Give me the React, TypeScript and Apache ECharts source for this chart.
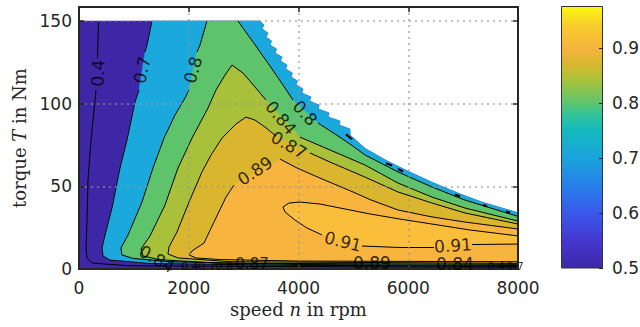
import { useEffect, useRef } from 'react';
import * as echarts from 'echarts';

// ---- axes ----
const SPEED_MIN = 0;
const SPEED_MAX = 8000;
const SPEED_STEP = 2000;
const TORQUE_MIN = 0;
const TORQUE_MAX = 158.5;
const TORQUE_STEP = 50;
const CB_MIN = 0.5;
const CB_MAX = 0.976;
const CB_STEP = 0.1;

// ---- max torque envelope [speed rpm, torque Nm] (jagged edge of the gridded map) ----
const ENVELOPE: number[][] = [
  [0, 150], [3300, 150], [3371, 147.6], [3335, 145.2], [3444, 142.7], [3408, 140.3], [3508, 137.9],
  [3481, 135.5], [3599, 133.1], [3572, 130.6], [3699, 128.2], [3672, 125.8], [3790, 123.4],
  [3765, 121], [3887, 118.5], [3863, 116.1], [3982, 113.7], [3954, 111.3], [4082, 108.9],
  [4060, 106.5], [4228, 104], [4200, 101.6], [4374, 99.2], [4360, 96.8], [4556, 94.4],
  [4540, 91.9], [4756, 89.5], [4740, 87.1], [4938, 84.7], [4940, 81], [5210, 73], [5580, 66],
  [5940, 60], [6430, 52.5], [6900, 46], [7340, 40.5], [8000, 34],
];

// ---- contour lines (segments split where labels sit) ----
const C040: number[][][] = [
  [[355, 150], [337, 127.6]],
  [[310, 108.3], [255, 90.1], [219, 78], [164, 53.8], [146, 29.6], [128, 12.7], [146, 6.7], [237, 3.6], [929, 1.9], [4027, 1.45], [8000, 1.1]],
];
const C070: number[][][] = [
  [[1330, 150], [1239, 135.5], [1203, 131.2]],
  [[1093, 108.3], [1020, 101], [875, 78], [747, 61.1], [601, 36.9], [474, 20.6], [419, 12.7], [437, 7.9], [565, 5.4], [1294, 3.3], [4027, 2.2], [8000, 1.6]],
];
// short 0.7 fragments just inside the envelope
const C070_EDGE: number[][][] = [
  [[4866, 81.5], [4975, 78.5]],
  [[5594, 64], [5704, 62.6]],
  [[5813, 60.5], [5904, 59]],
  [[6852, 45], [6943, 44]],
  [[7362, 38.8], [7435, 37.9]],
  [[7781, 34.7], [7854, 34.1]],
];
const C080_LOW: number[][][] = [
  [[2332, 150], [2205, 135.5], [2150, 131.2]],
  [[2004, 108.3], [1932, 103.4], [1749, 93.1], [1549, 79.2], [1348, 61.1], [1148, 40.5], [893, 20.6], [765, 12.7], [784, 8.5], [984, 6.4], [1658, 4.4], [4027, 2.7], [8000, 2.1]],
];
const C080_HIGH: number[][][] = [
  [[2897, 150], [3171, 137.3], [3481, 122.8], [3754, 109.5], [3900, 102.2]],
  [[4355, 88.3], [4665, 81.7], [4938, 75.6], [5212, 69], [5813, 58.7], [6433, 49.6], [7034, 41.7], [8000, 31.8]],
];
const C084: number[][][] = [
  [[8000, 29], [7034, 36.9], [6433, 43.5], [5813, 52], [5212, 62.9], [4574, 72], [4027, 79.8]],
  [[3408, 102.2], [3116, 113.7], [2989, 118.5], [2788, 123.4], [2661, 117.3], [2497, 108.3], [2351, 97.4], [2059, 79.2], [1804, 61.1], [1567, 38.7], [1294, 20], [1130, 12.1], [1166, 7.9], [1476, 5.6], [2569, 3.5], [8000, 2.8]],
];
const C087: number[][][] = [
  [[8000, 27.2], [7034, 33.9], [6433, 39.9], [5813, 46.6], [5212, 55.6], [4574, 64.7], [4209, 70.2]],
  [[3590, 80.4], [3389, 85.9], [3207, 90.1], [3043, 91.9], [2861, 87.7], [2606, 79.2], [2405, 68.9], [2241, 58.7], [2005, 40.5], [1786, 22.4], [1640, 13.3], [1622, 9.1], [1804, 6.7], [2752, 4.4], [8000, 3.4]],
];
const C089: number[][][] = [
  [[8000, 24.2], [7034, 28.4], [6433, 31.5], [5813, 35.7], [5303, 42], [4993, 46.6], [4392, 55], [3973, 61.1], [3663, 66.5]],
  [[2825, 50.8], [2679, 43.5], [2460, 28.4], [2278, 15.7], [2059, 10.9], [2004, 8.5], [2132, 6.7], [2569, 5.7], [4027, 4.8], [8000, 4.4]],
];
const C091: number[][][] = [
  [[8000, 20], [7125, 23.6], [6433, 27.2], [5850, 30.2], [5303, 33.3], [4756, 36.9], [4392, 39.3], [4027, 40.5], [3827, 39.9], [3717, 37.5], [3754, 34.5], [3936, 29.6], [4155, 24.8], [4428, 20.6]],
  [[5157, 13.9], [5850, 13], [6469, 13]],
  [[7162, 14.8], [8000, 15.1]],
];

// ---- contour labels [speed, torque, text, rotation] ----
const LABELS: [number, number, string, number][] = [
  [346, 118.5, '0.4', 88],
  [1148, 120.4, '0.7', 78],
  [2077, 120.4, '0.8', 74],
  [3680, 91.5, '0.84', -50],
  [4118, 94.3, '0.8', -47],
  [3826, 75, '0.87', -30],
  [3207, 59.3, '0.89', 33],
  [4810, 16.6, '0.91', -14],
  [6815, 14.2, '0.91', 4],
  [1421, 6, '0.84', -30],
  [2023, 1.8, '0.4', 0],
  [2333, 1.8, '0.7', 0],
  [2642, 1.8, '0.8', 0],
  [3153, 3, '0.87', 0],
  [5338, 3.6, '0.89', 0],
  [6851, 3, '0.84', 0],
  [7599, 1.8, '0.4', 0],
  [7945, 1.8, '0.7', 0],
];
// font size of each label (crowded ones along the bottom edge are smaller)
const LABEL_FONT_SIZES = [17, 17, 17, 17, 17, 17, 17, 17, 17, 17, 11, 11, 11, 15, 17, 17, 11, 11];

const FILL_COLORS = ['#3E27A6', '#1BA9DD', '#5EC46C', '#A8C03A', '#DAB62E', '#F7B43F', '#FBBE3A'];

const CB_STOPS: [number, string][] = [
  [0.5, '#3E26A8'], [0.55, '#4538CF'], [0.6, '#3A58EC'], [0.65, '#2680E8'], [0.7, '#1BA3DC'],
  [0.75, '#14BABF'], [0.78, '#35C39A'], [0.8, '#5EC56E'], [0.84, '#A5C23C'], [0.87, '#D6B82F'],
  [0.9, '#F5B33D'], [0.94, '#F8CC2E'], [0.976, '#F9F90F'],
];

const flat = (c: number[][][]) => c.reduce((a, s) => a.concat(s), [] as number[][]);

function buildRegions(): number[][][] {
  const envRev = ENVELOPE.slice().reverse();
  const domain = [[SPEED_MIN, 0], [SPEED_MAX, 0], ...envRev];
  const c07 = flat(C070);
  const r07 = [...c07, ...envRev.filter((p) => p[0] > c07[0][0])];
  const r08 = [...flat(C080_LOW), ...flat(C080_HIGH).reverse()];
  return [domain, r07, r08, flat(C084), flat(C087), flat(C089), flat(C091)];
}

const AXIS_COLOR = '#262626';
const TICK_FONT = 'DejaVu Sans';
const LABEL_FONT = 'DejaVu Serif';

export default function App() {
  const ref = useRef<HTMLDivElement>(null);
  useEffect(() => {
    document.body.style.margin = '0';
    if (!ref.current) return;
    const chart = echarts.init(ref.current, undefined, { renderer: 'svg' });
    const regions = buildRegions();
    const lineSeries: any[] = [];
    const addLines = (c: number[][][], width: number) => {
      c.forEach((seg) => {
        lineSeries.push({
          type: 'line',
          xAxisIndex: 0,
          yAxisIndex: 0,
          data: seg,
          showSymbol: false,
          symbol: 'none',
          lineStyle: { color: '#000', width },
          z: 3,
          silent: true,
          clip: true,
        });
      });
    };
    [C040, C070, C080_LOW, C080_HIGH, C084, C087, C089, C091].forEach((c) => addLines(c, 1));
    addLines(C070_EDGE, 2.2);
    const gridLine = { show: true, lineStyle: { color: 'rgba(150,150,150,0.6)', width: 2, type: [2, 4] as any } };
    const cbGradient = new echarts.graphic.LinearGradient(
      0, 1, 0, 0,
      CB_STOPS.map(([v, c]) => ({ offset: (v - CB_MIN) / (CB_MAX - CB_MIN), color: c }))
    );
    const nameStyle = {
      fontFamily: LABEL_FONT, fontSize: 18, color: AXIS_COLOR,
      rich: { i: { fontFamily: LABEL_FONT, fontSize: 18, fontStyle: 'italic', color: AXIS_COLOR } },
    };
    const boxAxis = {
      axisLine: { show: true, onZero: false, lineStyle: { color: AXIS_COLOR, width: 2 } },
      axisTick: { show: true, inside: true, length: 5, lineStyle: { color: AXIS_COLOR, width: 1.5 } },
    };
    chart.setOption({
      animation: false,
      backgroundColor: '#fff',
      grid: [
        { left: 79, top: 7, width: 439, height: 262, outerBoundsMode: 'none', containLabel: false },
        { left: 561, top: 6, width: 42, height: 262, outerBoundsMode: 'none', containLabel: false },
      ],
      xAxis: [
        {
          type: 'value', gridIndex: 0, min: SPEED_MIN, max: SPEED_MAX, interval: SPEED_STEP, position: 'bottom', z: 4,
          ...boxAxis,
          axisLabel: { fontFamily: TICK_FONT, fontSize: 17, color: AXIS_COLOR, margin: 10, formatter: (v: number) => String(v) },
          splitLine: gridLine,
          name: 'speed {i|n} in rpm', nameLocation: 'middle', nameGap: 31,
          nameTextStyle: nameStyle,
        },
        {
          type: 'value', gridIndex: 0, min: SPEED_MIN, max: SPEED_MAX, interval: SPEED_STEP, position: 'top', z: 4,
          ...boxAxis,
          axisLabel: { show: false }, splitLine: { show: false },
        },
        { type: 'category', gridIndex: 1, data: ['cb'], show: false },
      ],
      yAxis: [
        {
          type: 'value', gridIndex: 0, min: TORQUE_MIN, max: TORQUE_MAX, interval: TORQUE_STEP, position: 'left', z: 4,
          ...boxAxis,
          axisLabel: { fontFamily: TICK_FONT, fontSize: 17, color: AXIS_COLOR, margin: 7, showMaxLabel: false },
          splitLine: gridLine,
          name: 'torque {i|T} in Nm', nameLocation: 'middle', nameGap: 50, nameRotate: 90,
          nameTextStyle: nameStyle,
        },
        {
          type: 'value', gridIndex: 0, min: TORQUE_MIN, max: TORQUE_MAX, interval: TORQUE_STEP, position: 'right', z: 4,
          ...boxAxis,
          axisLabel: { show: false }, splitLine: { show: false },
        },
        {
          type: 'value', gridIndex: 1, min: CB_MIN, max: CB_MAX, interval: CB_STEP, position: 'right', z: 4,
          axisLine: { show: false },
          axisTick: { show: true, inside: true, length: 4, lineStyle: { color: AXIS_COLOR, width: 1 } },
          axisLabel: { fontFamily: TICK_FONT, fontSize: 17, color: AXIS_COLOR, margin: 9, showMaxLabel: false, formatter: (v: number) => v.toFixed(1) },
          splitLine: { show: false },
        },
      ],
      series: [
        {
          type: 'custom',
          xAxisIndex: 0,
          yAxisIndex: 0,
          coordinateSystem: 'cartesian2d',
          data: regions.map((_, i) => [i, 0]),
          encode: { x: 0, y: 1 },
          z: 1,
          silent: true,
          renderItem: (params: any, api: any) => {
            const poly = regions[params.dataIndex];
            return {
              type: 'polygon',
              shape: { points: poly.map((p) => api.coord(p)) },
              style: { fill: FILL_COLORS[params.dataIndex], stroke: FILL_COLORS[params.dataIndex], lineWidth: 0.5 },
            };
          },
        },
        ...lineSeries,
        {
          type: 'scatter',
          xAxisIndex: 0,
          yAxisIndex: 0,
          symbolSize: 0,
          clip: false,
          z: 6,
          silent: true,
          data: LABELS.map(([n, t, txt, rot], i) => ({
            value: [n, t],
            name: txt,
            label: { rotate: rot, fontSize: LABEL_FONT_SIZES[i] },
          })),
          label: {
            show: true,
            position: 'inside',
            formatter: '{b}',
            fontFamily: TICK_FONT,
            fontSize: 17,
            color: '#000',
          },
        },
        {
          type: 'bar',
          xAxisIndex: 2,
          yAxisIndex: 2,
          data: [CB_MAX],
          barWidth: '100%',
          clip: true,
          silent: true,
          itemStyle: { color: cbGradient, borderColor: '#333', borderWidth: 1 },
        },
      ],
    });
    return () => chart.dispose();
  }, []);
  return <div ref={ref} style={{ width: 640, height: 327 }} />;
}
